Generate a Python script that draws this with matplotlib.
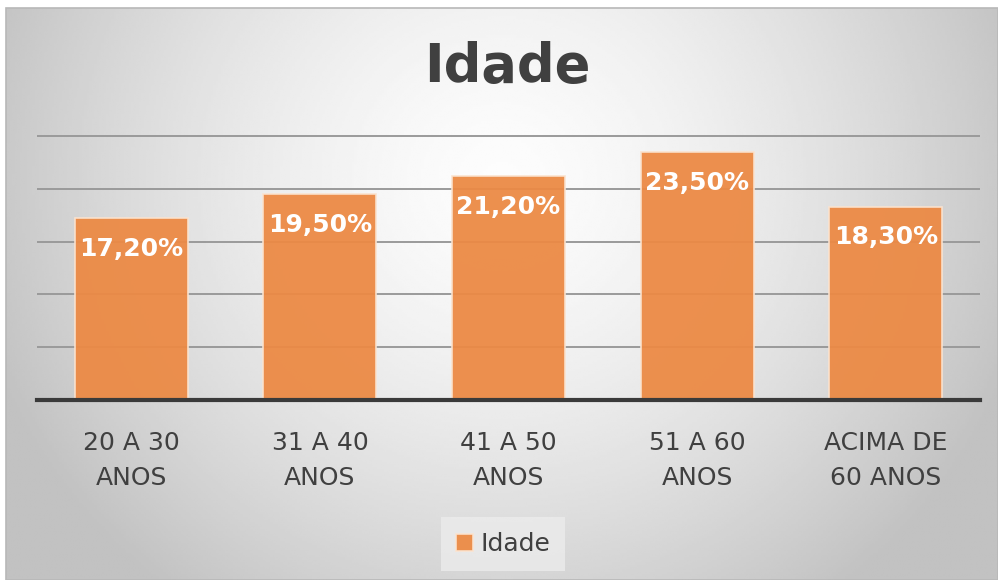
import numpy as np
import matplotlib.pyplot as plt
from matplotlib.patches import Rectangle

# ============ DADOS ============
categorias = ['20 A 30\nANOS', '31 A 40\nANOS', '41 A 50\nANOS', '51 A 60\nANOS', 'ACIMA DE\n60 ANOS']
valores = [17.2, 19.5, 21.2, 23.5, 18.3]
rotulos = ['17,20%', '19,50%', '21,20%', '23,50%', '18,30%']
serie = 'Idade'

laranja = '#EC8A45'
cinza_txt = '#404040'

plt.rcParams['font.family'] = ['DejaVu Sans']

fig = plt.figure(figsize=(9.98, 5.8), dpi=100)

# ============ FUNDO (gradiente) ============
bg = fig.add_axes([0, 0, 1, 1], zorder=-10)
gx = np.linspace(-1, 1, 400)
gy = np.linspace(-1, 1, 240)
X, Y = np.meshgrid(gx, gy)
r = np.sqrt(X**2 + (0.6 * (Y + 0.4))**2)
grad = 0.99 - 0.2 * np.clip(r, 0, 1.1)**1.5
bg.imshow(grad, cmap='gray', vmin=0, vmax=1, extent=[6, 998, 580, 8],
          aspect='auto', interpolation='bilinear')
bg.add_patch(Rectangle((6, 8), 992, 572, fill=False, edgecolor='#b8b8b8', lw=1.2))
bg.set_xlim(0, 998)
bg.set_ylim(580, 0)
bg.axis('off')

# ============ GRÁFICO ============
ax = fig.add_axes([37 / 998, (580 - 400) / 580, (980 - 37) / 998, (400 - 134) / 580])
ax.patch.set_alpha(0)
x = np.arange(len(categorias))
barras = ax.bar(x, valores, width=0.6, color=laranja, edgecolor='#fbe3cf', linewidth=1.2,
                alpha=0.95, zorder=3, label=serie)

for yv in [5, 10, 15, 20, 25]:
    ax.axhline(yv, color='#9a9a9a', lw=1.4, zorder=1)

for xi, v, t in zip(x, valores, rotulos):
    ax.text(xi, v - 2.9, t, ha='center', va='center', color='white', fontsize=18,
            fontweight='bold', zorder=4)

ax.set_xlim(-0.5, len(categorias) - 0.5)
ax.set_ylim(0, 25.2)
ax.set_yticks([])
ax.set_xticks(x)
ax.set_xticklabels(categorias, fontsize=18, color=cinza_txt, linespacing=1.6)
ax.tick_params(axis='x', length=0, pad=22)
for s in ['top', 'left', 'right']:
    ax.spines[s].set_visible(False)
ax.spines['bottom'].set_color('#3a3a3a')
ax.spines['bottom'].set_linewidth(3)
ax.spines['bottom'].set_zorder(5)

fig.text(0.508, 0.885, 'Idade', ha='center', va='center', fontsize=38,
         fontweight='bold', color=cinza_txt)

leg = fig.legend(handles=[barras], labels=[serie], loc='center',
                 bbox_to_anchor=(503 / 998, 1 - 544 / 580), fontsize=18,
                 frameon=True, fancybox=False, handlelength=0.7, handleheight=0.7,
                 handletextpad=0.3, borderpad=0.6)
leg.get_frame().set_facecolor('#ececec')
leg.get_frame().set_edgecolor('none')
for t in leg.get_texts():
    t.set_color(cinza_txt)

fig.savefig('out.png', dpi=100)
